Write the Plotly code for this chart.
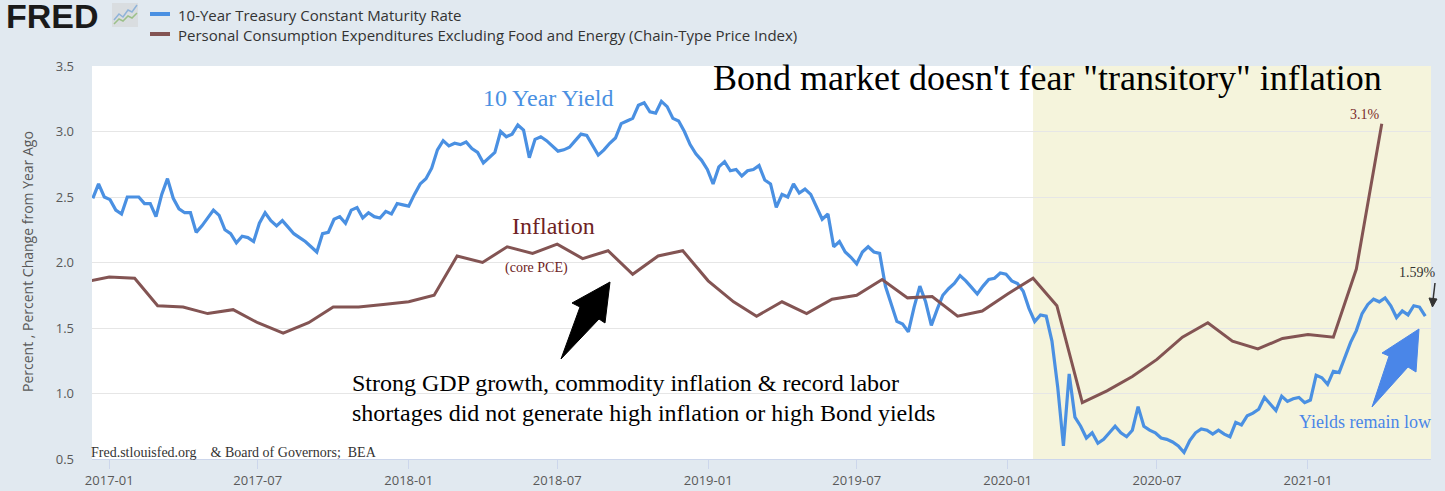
import pandas as pd
import plotly.graph_objects as go

# 10-year treasury yield, weekly readings from 2016-12-12
yield_start = "2016-12-12"
yields = [
    2.49, 2.60, 2.50, 2.48, 2.40, 2.37, 2.50, 2.50, 2.50, 2.45,
    2.45, 2.35, 2.52, 2.64, 2.49, 2.41, 2.38, 2.38, 2.23, 2.28,
    2.34, 2.40, 2.36, 2.25, 2.22, 2.15, 2.20, 2.19, 2.16, 2.30,
    2.38, 2.32, 2.28, 2.32, 2.27, 2.22, 2.19, 2.16, 2.12, 2.08,
    2.22, 2.23, 2.33, 2.35, 2.30, 2.40, 2.42, 2.34, 2.38, 2.35,
    2.34, 2.39, 2.37, 2.45, 2.44, 2.43, 2.52, 2.60, 2.64, 2.72,
    2.86, 2.93, 2.89, 2.91, 2.90, 2.92, 2.87, 2.84, 2.76, 2.80,
    2.84, 3.00, 2.96, 2.98, 3.05, 3.01, 2.80, 2.94, 2.96, 2.93,
    2.89, 2.85, 2.86, 2.88, 2.93, 2.98, 2.97, 2.89, 2.82, 2.86,
    2.91, 2.95, 3.06, 3.08, 3.10, 3.20, 3.22, 3.15, 3.14, 3.23,
    3.19, 3.10, 3.08, 3.00, 2.90, 2.83, 2.78, 2.71, 2.60, 2.73,
    2.77, 2.70, 2.71, 2.66, 2.70, 2.71, 2.74,
    2.63, 2.60, 2.42, 2.52, 2.50, 2.60, 2.53, 2.56, 2.52, 2.42,
    2.33, 2.37, 2.12, 2.16, 2.08, 2.04, 1.99, 2.08, 2.12, 2.08,
    2.07, 1.82, 1.68, 1.55, 1.53, 1.47, 1.66, 1.82, 1.70, 1.52,
    1.64, 1.75, 1.80, 1.84, 1.90, 1.86, 1.81, 1.76, 1.82, 1.87,
    1.88, 1.92, 1.91, 1.86, 1.84, 1.78, 1.65, 1.55, 1.60, 1.59,
    1.40, 1.05, 0.60, 1.15, 0.82, 0.75, 0.66,
    0.70, 0.62, 0.65, 0.70, 0.75, 0.70, 0.67, 0.72, 0.90, 0.75,
    0.72, 0.70, 0.66, 0.65, 0.63, 0.60, 0.55, 0.64, 0.70, 0.73,
    0.72, 0.69, 0.72, 0.69, 0.67, 0.78, 0.76, 0.83, 0.85, 0.88,
    0.97, 0.92, 0.87, 0.98, 0.94, 0.96, 0.97, 0.93, 0.95, 1.14,
    1.12, 1.07, 1.17, 1.16, 1.27, 1.39, 1.48, 1.61, 1.68, 1.72,
    1.70, 1.73, 1.67, 1.58, 1.63, 1.60, 1.67, 1.66, 1.59,
]
yield_dates = pd.date_range(yield_start, periods=len(yields), freq="7D")

# core PCE, percent change from year ago, monthly from 2016-12
pce_start = "2016-12-01"
pce = [
    1.85,
    1.89, 1.88, 1.67, 1.66, 1.61, 1.64, 1.54, 1.46, 1.54, 1.66, 1.66, 1.68,
    1.70, 1.75, 2.05, 2.00, 2.12, 2.07, 2.14, 2.03, 2.09, 1.91, 2.05, 2.09,
    1.86, 1.70, 1.59, 1.70, 1.61, 1.72, 1.75, 1.87, 1.73, 1.74, 1.59, 1.63,
    1.76, 1.88, 1.67, 0.93, 1.02, 1.13, 1.26, 1.43, 1.54, 1.40, 1.34, 1.42,
    1.45, 1.43, 1.95, 3.06,
]
pce_dates = pd.date_range(pce_start, periods=len(pce), freq="MS")

series_names = ["10-Year Treasury Constant Maturity Rate",
                "Personal Consumption Expenditures Excluding Food and Energy (Chain-Type Price Index)"]

BLUE = "#4a90e2"
BROWN = "#835453"
SERIF = "Liberation Serif, Times New Roman, serif"
SANS = "Open Sans, sans-serif"

# page geometry (pixels) so decorations can be placed in paper coords
W, H = 1445, 491
L, R, T, B = 92, 14, 66, 32


def px(x):
    return (x - L) / (W - L - R)


def py(y):
    return (H - B - y) / (H - T - B)


def pts(points):
    return " L ".join(f"{px(a):.5f},{py(b):.5f}" for a, b in points)


fig = go.Figure()
fig.add_trace(go.Scatter(x=yield_dates, y=yields, mode="lines", name=series_names[0],
                         line=dict(color=BLUE, width=3.2), showlegend=False))
fig.add_trace(go.Scatter(x=pce_dates, y=pce, mode="lines", name=series_names[1],
                         line=dict(color=BROWN, width=3), showlegend=False))

shapes = [
    # shaded period
    dict(type="rect", xref="x", yref="paper", x0="2020-02-01", x1="2021-05-31",
         y0=0, y1=1, fillcolor="#f5f4dc", line_width=0, layer="below"),
    # black arrow
    dict(type="path", xref="paper", yref="paper",
         path="M " + pts([(610, 282), (605, 323), (599, 319), (561, 359), (580, 307), (572, 303)]) + " Z",
         fillcolor="black", line=dict(color="black", width=1)),
    # blue arrow
    dict(type="path", xref="paper", yref="paper",
         path="M " + pts([(1419, 329), (1416, 372), (1408, 367), (1372, 407), (1389, 356), (1382, 353)]) + " Z",
         fillcolor="#4a86e8", line=dict(color="#4a86e8", width=1)),
    # small arrow pointing at the last yield
    dict(type="line", xref="paper", yref="paper", x0=px(1435), x1=px(1433), y0=py(283), y1=py(300),
         line=dict(color="#333333", width=1.5)),
    dict(type="path", xref="paper", yref="paper",
         path="M " + pts([(1429, 298), (1437, 299), (1432.5, 307)]) + " Z",
         fillcolor="#333333", line=dict(color="#333333", width=1)),
    # legend dashes
    dict(type="line", xref="paper", yref="paper", x0=px(150), x1=px(170), y0=py(14), y1=py(14),
         line=dict(color=BLUE, width=4)),
    dict(type="line", xref="paper", yref="paper", x0=px(150), x1=px(170), y0=py(34), y1=py(34),
         line=dict(color=BROWN, width=4)),
    # FRED icon
    dict(type="rect", xref="paper", yref="paper", x0=px(112), x1=px(138), y0=py(27), y1=py(3),
         fillcolor="#d9dde0", line_width=0),
    dict(type="path", xref="paper", yref="paper",
         path="M " + pts([(114, 20), (119, 14), (123, 17), (128, 10), (132, 12), (137, 5)]),
         line=dict(color="#8fb3d9", width=1.5)),
    dict(type="path", xref="paper", yref="paper",
         path="M " + pts([(114, 24), (119, 19), (123, 21), (128, 16), (132, 18), (137, 13)]),
         line=dict(color="#9cc08a", width=1.5)),
]


def note(text, x, y, size, color, family=SERIF, anchor="left", weight=None, angle=0):
    d = dict(text=text, xref="paper", yref="paper", x=px(x), y=py(y), showarrow=False,
             xanchor=anchor, yanchor="middle", textangle=angle,
             font=dict(family=family, size=size, color=color))
    if weight:
        d["font"]["weight"] = weight
    return d


annotations = [
    note("FRED", 4, 16, 34, "#1a1a1a", family="Liberation Sans, Arial, sans-serif", weight="bold"),
    note(series_names[0], 176, 15, 15, "#333333", family=SANS),
    note(series_names[1], 176, 35, 15, "#333333", family=SANS),
    note("Percent , Percent Change from Year Ago", 27, 262, 14, "#595959",
         family=SANS, anchor="center", angle=-90),
    note("Bond market doesn't fear \"transitory\" inflation", 711, 78, 36, "black"),
    note("10 Year Yield", 548, 98, 24, BLUE, anchor="center"),
    note("Inflation", 553, 226, 24, "#6e2323", anchor="center"),
    note("(core PCE)", 536, 268, 14, "#6e2323", anchor="center"),
    note("Strong GDP growth, commodity inflation &amp; record labor", 350, 383, 24, "black"),
    note("shortages did not generate high inflation or high Bond yields", 350, 413, 24, "black"),
    note("Yields remain low", 1365, 422, 18, "#4a86e8", anchor="center"),
    note("3.1%", 1365, 114, 14, "#7a2a2a", anchor="center"),
    note("1.59%", 1417, 272, 14, "#333333", anchor="center"),
    note("Fred.stlouisfed.org\u00a0\u00a0\u00a0\u00a0&amp; Board of Governors;\u00a0\u00a0BEA",
         89, 452, 14, "#333333"),
]

fig.update_layout(
    width=W, height=H,
    margin=dict(l=L, r=R, t=T, b=B),
    paper_bgcolor="#e1e9f0",
    plot_bgcolor="white",
    shapes=shapes,
    annotations=annotations,
    xaxis=dict(type="date", range=["2016-12-11", "2021-05-31"], tick0="2017-01-01",
               dtick="M6", tickformat="%Y-%m", showgrid=False, ticks="outside",
               ticklen=9, tickcolor="#ccd6eb", showline=True, linecolor="#ccd6eb",
               automargin=False,
               tickfont=dict(family=SANS, size=13, color="#595959")),
    yaxis=dict(range=[0.5, 3.5], dtick=0.5, tickformat=".1f", gridcolor="#e6e6e6",
               zeroline=False, ticklabelstandoff=17, automargin=False,
               tickfont=dict(family=SANS, size=13, color="#595959")),
)

# the browser's default body margin would shift the figure by 8px
fig.write_html("out.html", config={"displayModeBar": False},
               post_script="document.body.style.margin='0';")
